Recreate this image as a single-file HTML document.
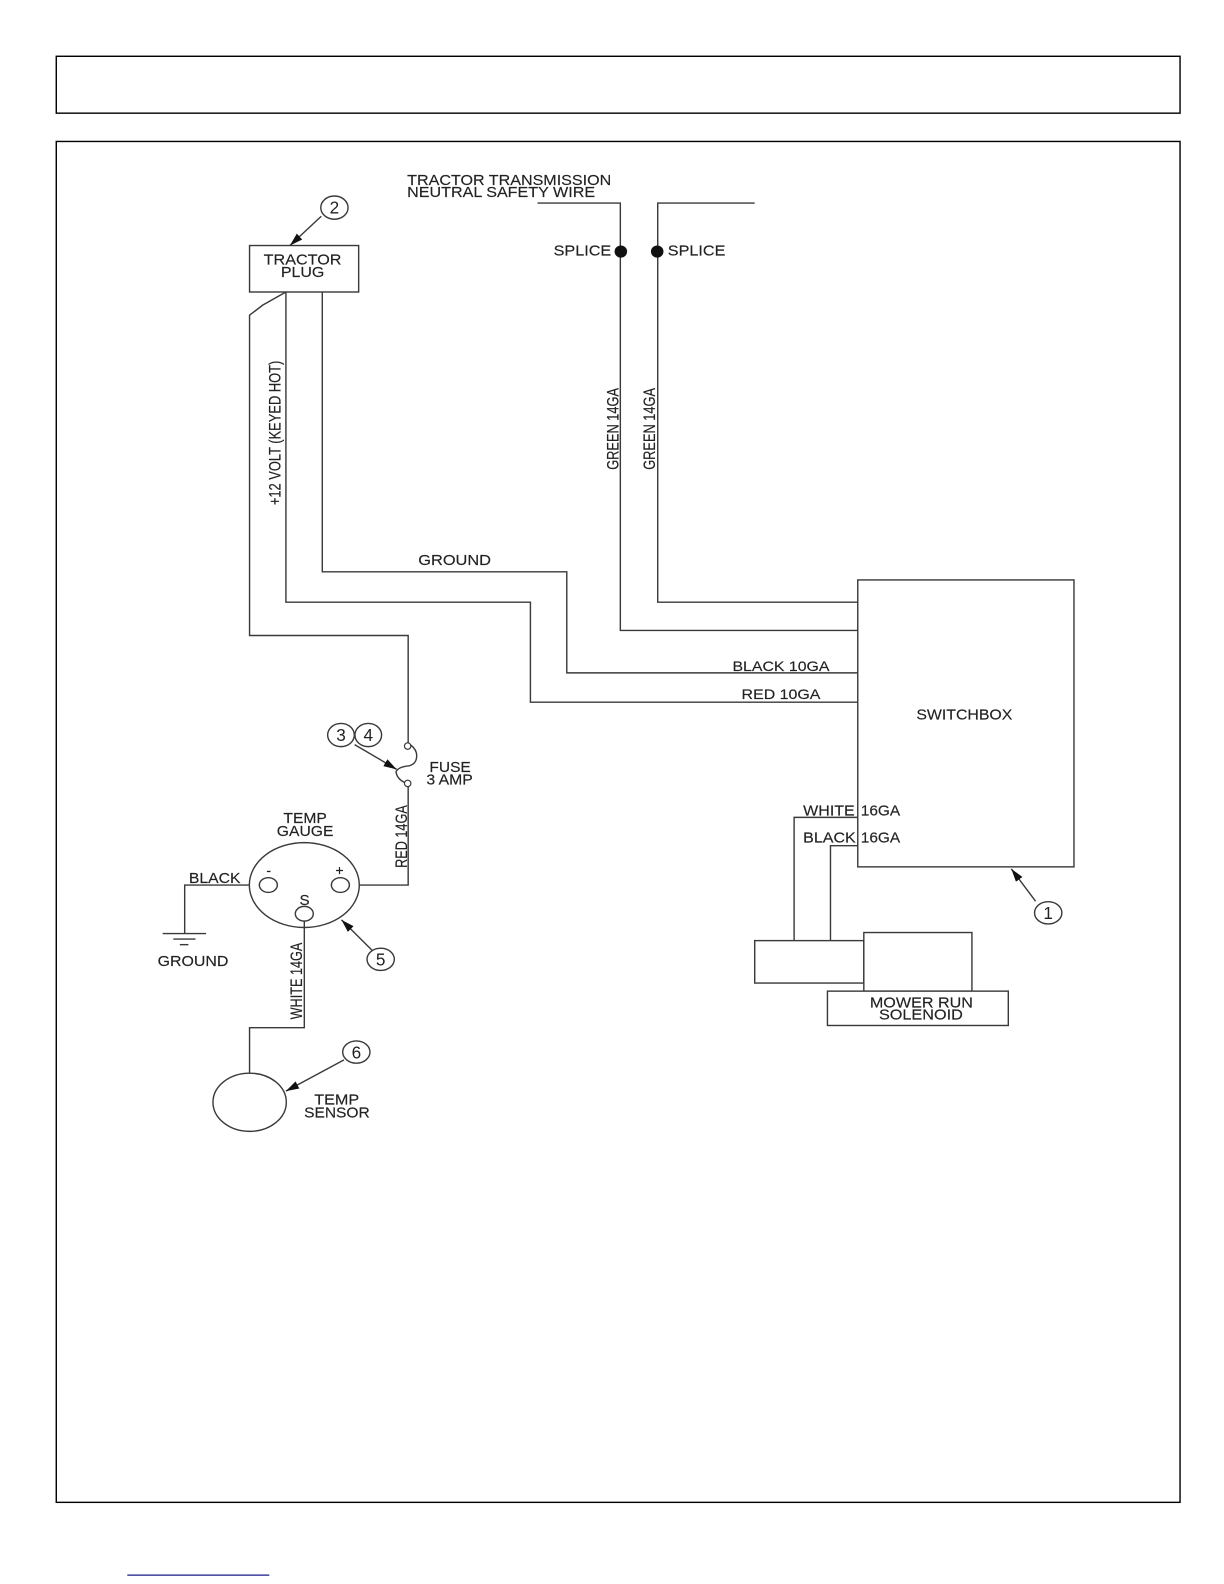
<!DOCTYPE html>
<html><head><meta charset="utf-8"><style>
html,body{margin:0;padding:0;background:#fff}
svg{display:block}
text{font-family:"Liberation Sans",sans-serif;fill:#222;font-size:15px;stroke:#222;stroke-width:.15}
.w{fill:none;stroke:#3a3a3a;stroke-width:1.4}
.b{fill:#fff;stroke:#3a3a3a;stroke-width:1.4}
.f{fill:none;stroke:#000;stroke-width:1.4}
.r{font-size:16.5px}
.n{font-size:17px;stroke-width:0}
</style></head><body>
<svg width="1224" height="1584" viewBox="0 0 1211.5 1567.8" xmlns="http://www.w3.org/2000/svg">
<defs><marker id="a" markerWidth="14" markerHeight="10" refX="13" refY="4" orient="auto" markerUnits="userSpaceOnUse"><path d="M0 0L13 4L0 8Z" fill="#111"/></marker></defs>
<rect x="0" y="0" width="1212" height="1568" fill="#fff"/>
<rect class="f" x="55.7" y="55.7" width="1112.3" height="56.3"/>
<rect class="f" x="55.7" y="140" width="1112.3" height="1347"/>
<line x1="126" y1="1559" x2="266.5" y2="1559" stroke="#1a1a8a" stroke-width="1.2"/>

<text x="403" y="183" textLength="202" lengthAdjust="spacingAndGlyphs">TRACTOR TRANSMISSION</text>
<text x="403" y="195" textLength="186" lengthAdjust="spacingAndGlyphs">NEUTRAL SAFETY WIRE</text>
<path class="w" d="M532 201H614V624H849"/>
<path class="w" d="M747 201H651V596H849"/>
<ellipse cx="614.5" cy="249" rx="6.2" ry="6" fill="#111"/>
<ellipse cx="650.5" cy="249" rx="6.2" ry="6" fill="#111"/>
<text x="548" y="253" textLength="57" lengthAdjust="spacingAndGlyphs">SPLICE</text>
<text x="661" y="253" textLength="57" lengthAdjust="spacingAndGlyphs">SPLICE</text>

<rect class="b" x="247" y="243" width="108" height="46"/>
<text x="261" y="262" textLength="77" lengthAdjust="spacingAndGlyphs">TRACTOR</text>
<text x="278" y="274" textLength="43" lengthAdjust="spacingAndGlyphs">PLUG</text>
<ellipse class="b" cx="331" cy="205.5" rx="13.5" ry="11.5"/>
<text class="n" x="331" y="211.5" text-anchor="middle">2</text>
<line class="w" x1="318" y1="214" x2="287" y2="243" marker-end="url(#a)"/>

<path class="w" d="M283 289V596H525V695H849"/>
<path class="w" d="M319 289V566H561V666H849"/>
<path class="w" d="M283 289L260 302L247 312V629H404V735"/>
<text x="414" y="559" textLength="72" lengthAdjust="spacingAndGlyphs">GROUND</text>
<text x="725" y="664" textLength="96" lengthAdjust="spacingAndGlyphs" style="font-size:14px">BLACK 10GA</text>
<text x="734" y="692" textLength="78" lengthAdjust="spacingAndGlyphs" style="font-size:14px">RED 10GA</text>

<text class="r" transform="translate(277.5,500) rotate(-90)" textLength="143" lengthAdjust="spacingAndGlyphs">+12 VOLT (KEYED HOT)</text>
<text class="r" transform="translate(612,465) rotate(-90)" textLength="81" lengthAdjust="spacingAndGlyphs">GREEN 14GA</text>
<text class="r" transform="translate(648.5,465) rotate(-90)" textLength="81" lengthAdjust="spacingAndGlyphs">GREEN 14GA</text>
<text class="r" transform="translate(403,859) rotate(-90)" textLength="62" lengthAdjust="spacingAndGlyphs">RED 14GA</text>
<text class="r" transform="translate(299,1009) rotate(-90)" textLength="76" lengthAdjust="spacingAndGlyphs">WHITE 14GA</text>

<rect class="b" x="849" y="574" width="214" height="284"/>
<text x="907" y="712" textLength="95" lengthAdjust="spacingAndGlyphs">SWITCHBOX</text>
<path class="w" d="M849 809H786V931"/>
<path class="w" d="M849 837H822V931"/>
<text x="795" y="807" textLength="51" lengthAdjust="spacingAndGlyphs">WHITE</text>
<text x="852" y="807" textLength="39" lengthAdjust="spacingAndGlyphs">16GA</text>
<text x="795" y="834" textLength="52" lengthAdjust="spacingAndGlyphs">BLACK</text>
<text x="852" y="834" textLength="39" lengthAdjust="spacingAndGlyphs">16GA</text>
<ellipse class="b" cx="1037.5" cy="903.5" rx="13.5" ry="11"/>
<text class="n" x="1037.5" y="909.5" text-anchor="middle">1</text>
<line class="w" x1="1025" y1="892" x2="1001" y2="860" marker-end="url(#a)"/>
<rect class="b" x="747" y="931" width="108" height="42"/>
<rect class="b" x="855" y="923" width="107" height="58"/>
<rect class="b" x="819" y="981" width="179" height="34"/>
<text x="861" y="997" textLength="102" lengthAdjust="spacingAndGlyphs">MOWER RUN</text>
<text x="870" y="1009" textLength="83" lengthAdjust="spacingAndGlyphs">SOLENOID</text>

<circle cx="403.5" cy="738.4" r="3.2" fill="#fff" stroke="#3a3a3a" stroke-width="1.2"/>
<circle cx="403.5" cy="775.4" r="3.2" fill="#fff" stroke="#3a3a3a" stroke-width="1.2"/>
<path class="w" d="M406 737Q413 742 412.4 749Q412 756 405 758Q394 759 392 764Q393 771 400.5 774.5"/>
<path class="w" d="M404 779V876H347"/>
<ellipse class="b" cx="337.5" cy="727.5" rx="13.2" ry="11.5"/>
<ellipse class="b" cx="364.5" cy="727.5" rx="13.2" ry="11.5"/>
<text class="n" x="337.5" y="733.5" text-anchor="middle">3</text>
<text class="n" x="364.5" y="733.5" text-anchor="middle">4</text>
<line class="w" x1="351" y1="737" x2="392.6" y2="761.5" marker-end="url(#a)"/>
<text x="425" y="764" textLength="41" lengthAdjust="spacingAndGlyphs">FUSE</text>
<text x="422" y="776.5" textLength="46" lengthAdjust="spacingAndGlyphs">3 AMP</text>

<text x="280.5" y="814.5" textLength="43" lengthAdjust="spacingAndGlyphs">TEMP</text>
<text x="274" y="827.5" textLength="56" lengthAdjust="spacingAndGlyphs">GAUGE</text>
<ellipse class="b" cx="301.2" cy="876" rx="54.4" ry="42"/>
<ellipse class="b" cx="265.6" cy="876" rx="8.9" ry="7.3"/>
<ellipse class="b" cx="336.9" cy="876" rx="8.9" ry="7.3"/>
<ellipse class="b" cx="301.2" cy="904.4" rx="8.9" ry="7.3"/>
<text x="266" y="866" text-anchor="middle" style="font-size:14px">-</text>
<text x="336" y="866" text-anchor="middle" style="font-size:14px">+</text>
<text x="301.5" y="896" text-anchor="middle" style="font-size:15px">S</text>
<path class="w" d="M247 876H182.8V924"/>
<line class="w" x1="161" y1="924" x2="204" y2="924"/>
<line class="w" x1="171.5" y1="929.5" x2="193.5" y2="929.5"/>
<line class="w" x1="178" y1="935" x2="186.5" y2="935"/>
<text x="187" y="874" textLength="51" lengthAdjust="spacingAndGlyphs">BLACK</text>
<text x="156" y="956" textLength="70" lengthAdjust="spacingAndGlyphs">GROUND</text>

<ellipse class="b" cx="247.1" cy="1091" rx="36.3" ry="28.8"/>
<path class="w" d="M301.2 912V1017.2H247V1062"/>
<ellipse class="b" cx="352.7" cy="1041.3" rx="13.5" ry="11"/>
<text class="n" x="352.7" y="1047.5" text-anchor="middle">6</text>
<line class="w" x1="340.5" y1="1049" x2="283" y2="1080" marker-end="url(#a)"/>
<text x="311" y="1093" textLength="44.5" lengthAdjust="spacingAndGlyphs">TEMP</text>
<text x="301" y="1106.3" textLength="65" lengthAdjust="spacingAndGlyphs">SENSOR</text>
<ellipse class="b" cx="376.8" cy="949.5" rx="13.5" ry="11"/>
<text class="n" x="376.8" y="955.5" text-anchor="middle">5</text>
<line class="w" x1="368" y1="940.3" x2="338" y2="910.5" marker-end="url(#a)"/>
</svg>
</body></html>
